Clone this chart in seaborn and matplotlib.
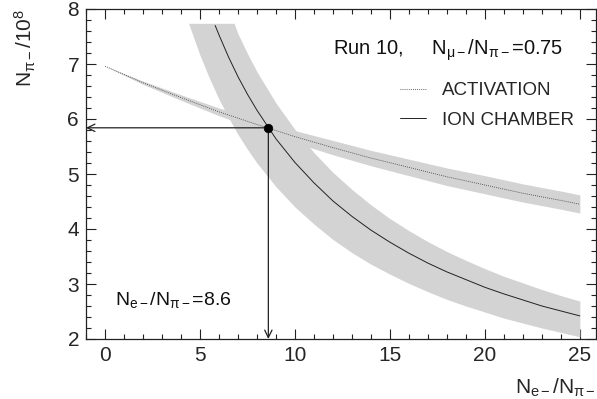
import numpy as np
import pandas as pd
import matplotlib
matplotlib.use("Agg")
import matplotlib.pyplot as plt
from matplotlib.ticker import MultipleLocator
import seaborn as sns

# ---------------- data ----------------
act_x = [0, 2, 4, 6, 8, 10, 12, 14, 16, 18, 20, 22, 24, 25]
act_y = [6.96, 6.66, 6.39, 6.13, 5.90, 5.68, 5.48, 5.29, 5.12, 4.95, 4.80, 4.65, 4.52, 4.45]
act_hi = [6.96, 6.69, 6.44, 6.20, 5.99, 5.79, 5.61, 5.43, 5.27, 5.11, 4.97, 4.82, 4.69, 4.62]
act_lo = [6.96, 6.63, 6.34, 6.06, 5.81, 5.57, 5.35, 5.15, 4.97, 4.79, 4.64, 4.49, 4.36, 4.29]

ion_x = [5.8, 6, 6.5, 7, 7.5, 8, 9, 10, 11, 12, 13, 14, 15, 16, 17, 18, 19, 20,
         21, 22, 23, 24, 25]
ion_y = [7.70, 7.53, 7.13, 6.77, 6.45, 6.16, 5.64, 5.21, 4.84, 4.51, 4.23, 3.98,
         3.76, 3.56, 3.38, 3.22, 3.08, 2.94, 2.82, 2.71, 2.60, 2.51, 2.42]

ionb_x = [4.4, 5, 5.5, 6, 6.5, 6.8, 7, 7.5, 8, 9, 10, 11, 12, 13, 14, 15, 16, 17,
          18, 19, 20, 21, 22, 23, 24, 25]
ionb_lo = [7.74, 7.16, 6.74, 6.36, 6.03, 5.84, 5.72, 5.45, 5.20, 4.77, 4.40, 4.09,
           3.81, 3.57, 3.36, 3.18, 3.01, 2.86, 2.72, 2.60, 2.49, 2.38, 2.29, 2.20,
           2.12, 2.04]
ionb_hi = [7.74, 7.74, 7.74, 7.74, 7.74, 7.74, 7.55, 7.19, 6.86, 6.29, 5.81, 5.39,
           5.03, 4.72, 4.44, 4.19, 3.97, 3.77, 3.59, 3.43, 3.28, 3.14, 3.02, 2.90,
           2.79, 2.69]

result_x = [8.6]
result_y = [5.84]

x_ticks = [0, 5, 10, 15, 20, 25]
y_ticks = [2, 3, 4, 5, 6, 7, 8]

# ---------------- style ----------------
sns.set_theme(style="ticks")
plt.rcParams["font.family"] = ["Liberation Sans", "DejaVu Sans"]
plt.rcParams["mathtext.fontset"] = "custom"
plt.rcParams["mathtext.rm"] = "Liberation Sans"
plt.rcParams["mathtext.it"] = "Liberation Sans:italic"
plt.rcParams["mathtext.default"] = "regular"

fig = plt.figure(figsize=(5.97, 3.99), dpi=100)
ax = fig.add_axes([86 / 597, 60 / 399, 510 / 597, 330 / 399])

band_color = "#d3d3d3"
ax.fill_between(act_x, act_lo, act_hi, color=band_color, lw=0, zorder=1)
ax.fill_between(ionb_x, ionb_lo, ionb_hi, color=band_color, lw=0, zorder=1)

df_act = pd.DataFrame({"x": act_x, "y": act_y})
df_ion = pd.DataFrame({"x": ion_x, "y": ion_y})
sns.lineplot(data=df_act, x="x", y="y", ax=ax, color="#333333", lw=0.6,
             linestyle=(0, (1.0, 1.5)), label="ACTIVATION", zorder=3)
sns.lineplot(data=df_ion, x="x", y="y", ax=ax, color="#222222", lw=0.7,
             label="ION CHAMBER", zorder=3)

ax.set_xlim(-1, 25.85)
ax.set_ylim(2, 8)

# arrows from the crossing point to the axes
arr = dict(arrowstyle="->,head_length=0.45,head_width=0.22", lw=0.9,
           color="#222222", shrinkA=0, shrinkB=0)
ax.annotate("", xy=(ax.get_xlim()[0], result_y[0]),
            xytext=(result_x[0], result_y[0]), arrowprops=arr, zorder=4)
ax.annotate("", xy=(result_x[0], ax.get_ylim()[0]),
            xytext=(result_x[0], result_y[0]), arrowprops=arr, zorder=4)
sns.scatterplot(x=result_x, y=result_y, ax=ax, color="black", s=38,
                edgecolor="black", zorder=5, legend=False)

# ticks
ax.set_xticks(x_ticks)
ax.set_yticks(y_ticks)
ax.xaxis.set_minor_locator(MultipleLocator(1))
ax.yaxis.set_minor_locator(MultipleLocator(0.2))
ax.tick_params(which="both", direction="in", top=True, right=True,
               width=0.8, color="#222222")
ax.tick_params(which="major", length=7, labelsize=15, pad=5)
ax.tick_params(which="minor", length=3.6)
for s in ax.spines.values():
    s.set_linewidth(0.9)
    s.set_color("#222222")

# labels
ax.set_xlabel(r"N$_{e-}$/N$_{\pi-}$", fontsize=15)
ax.xaxis.set_label_coords(1.0, -0.115)
ax.xaxis.label.set_ha("right")
ax.set_ylabel(r"N$_{\pi-}$/10$^{8}$", fontsize=15)
ax.yaxis.set_label_coords(-0.143, 1.0)
ax.yaxis.label.set_va("top")
ax.yaxis.label.set_ha("right")

ax.text(0.484, 0.876, r"Run 10,     N$_{\mu-}$/N$_{\pi-}$=0.75", transform=ax.transAxes,
        fontsize=14.5, ha="left", va="center", color="#111111")
ax.text(0.057, 0.118, r"N$_{e-}$/N$_{\pi-}$=8.6", transform=ax.transAxes,
        fontsize=14, ha="left", va="center", color="#111111")

leg = ax.legend(loc="upper left", bbox_to_anchor=(0.615, 0.778), frameon=False,
                fontsize=13.5, handlelength=1.4, handletextpad=0.85,
                labelspacing=0.65, borderaxespad=0, borderpad=0)

fig.savefig("out.png", dpi=100)
